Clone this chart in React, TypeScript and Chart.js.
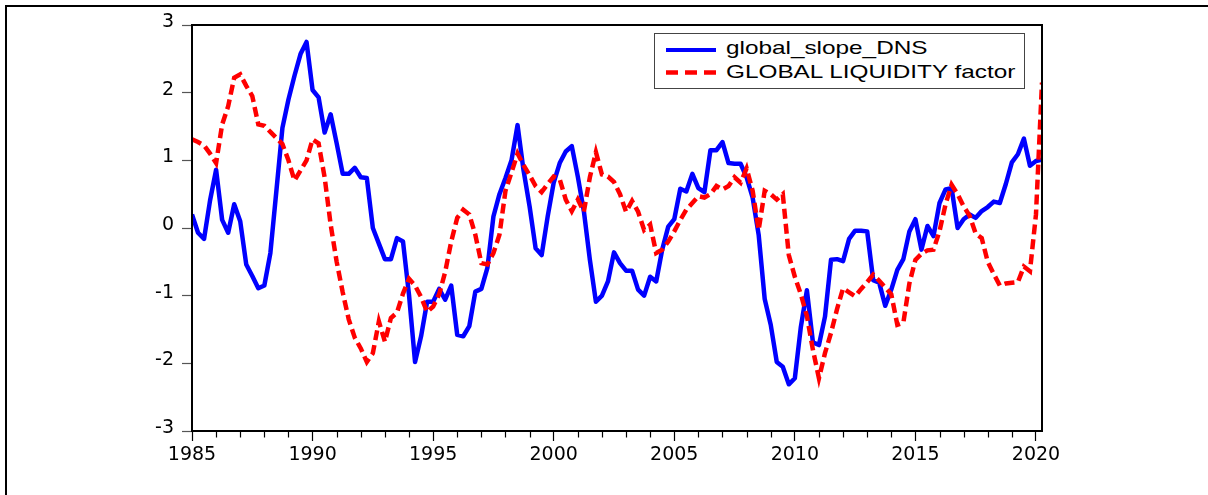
import React, { useEffect, useRef } from 'react';
import { Chart, registerables } from 'chart.js';

Chart.register(...registerables);

const START_YEAR = 1985;
const END_X = 2020.25;

// Quarterly observations 1985Q1 .. 2020Q2
const slopeDNS: number[] = [
  0.20, -0.07, -0.16, 0.41, 0.86, 0.12, -0.07, 0.35, 0.10, -0.54,
  -0.71, -0.89, -0.85, -0.37, 0.55, 1.48, 1.90, 2.25, 2.57, 2.75,
  2.04, 1.93, 1.41, 1.68, 1.25, 0.80, 0.80, 0.89, 0.75, 0.74,
  0.00, -0.23, -0.46, -0.46, -0.15, -0.20, -0.99, -1.98, -1.60, -1.09,
  -1.09, -0.90, -1.06, -0.85, -1.58, -1.60, -1.45, -0.94, -0.90, -0.59,
  0.17, 0.50, 0.74, 1.00, 1.52, 0.85, 0.32, -0.30, -0.40, 0.17,
  0.67, 0.96, 1.13, 1.21, 0.76, 0.25, -0.47, -1.09, -1.00, -0.79,
  -0.36, -0.52, -0.63, -0.63, -0.91, -1.00, -0.72, -0.79, -0.32, 0.02,
  0.13, 0.58, 0.54, 0.80, 0.59, 0.53, 1.15, 1.15, 1.27, 0.96,
  0.95, 0.95, 0.75, 0.45, -0.10, -1.05, -1.43, -1.98, -2.05, -2.31,
  -2.22, -1.46, -0.92, -1.69, -1.73, -1.31, -0.47, -0.46, -0.49, -0.16,
  -0.04, -0.04, -0.05, -0.77, -0.81, -1.15, -0.91, -0.62, -0.46, -0.05,
  0.13, -0.32, 0.03, -0.12, 0.37, 0.57, 0.59, 0.00, 0.13, 0.20,
  0.15, 0.25, 0.31, 0.39, 0.37, 0.65, 0.97, 1.09, 1.32, 0.92,
  0.99, 1.01,
];

const liquidity: number[] = [
  1.31, 1.27, 1.22, 1.10, 0.96, 1.53, 1.80, 2.22, 2.27, 2.10,
  1.95, 1.53, 1.51, 1.42, 1.33, 1.24, 1.00, 0.70, 0.85, 1.00,
  1.31, 1.25, 0.75, 0.05, -0.50, -0.95, -1.35, -1.62, -1.78, -1.98,
  -1.85, -1.38, -1.68, -1.33, -1.25, -0.97, -0.75, -0.85, -1.02, -1.24,
  -1.16, -0.98, -0.65, -0.20, 0.15, 0.27, 0.20, -0.10, -0.52, -0.54,
  -0.37, -0.10, 0.55, 0.82, 1.10, 0.93, 0.78, 0.62, 0.53, 0.65,
  0.76, 0.72, 0.42, 0.25, 0.42, 0.24, 0.75, 1.12, 0.79, 0.76,
  0.68, 0.50, 0.24, 0.40, 0.24, -0.03, 0.05, -0.37, -0.32, -0.20,
  -0.05, 0.12, 0.27, 0.37, 0.47, 0.45, 0.50, 0.62, 0.57, 0.62,
  0.75, 0.67, 0.88, 0.55, -0.03, 0.55, 0.50, 0.42, 0.50, -0.40,
  -0.72, -0.98, -1.30, -1.80, -2.22, -1.85, -1.55, -1.20, -0.89, -0.95,
  -1.01, -0.90, -0.80, -0.69, -0.78, -0.88, -0.98, -1.43, -1.40, -0.82,
  -0.47, -0.38, -0.33, -0.32, -0.05, 0.35, 0.64, 0.50, 0.32, 0.18,
  -0.08, -0.15, -0.50, -0.68, -0.85, -0.82, -0.81, -0.80, -0.57, -0.64,
  0.20, 2.15,
];

const quarters: number[] = slopeDNS.map((_, i) => START_YEAR + i / 4);
const majorYears: number[] = [1985, 1990, 1995, 2000, 2005, 2010, 2015, 2020];
const Y_MIN = -3;
const Y_MAX = 3;

const SERIES_NAMES = ['global_slope_DNS', 'GLOBAL LIQUIDITY factor'];

export default function App() {
  const ref = useRef<HTMLCanvasElement | null>(null);

  useEffect(() => {
    if (!ref.current) return;
    const framePlugin = {
      id: 'framePlugin',
      afterDraw(chart: any) {
        const { ctx, chartArea } = chart;
        const xs = chart.scales.x;
        ctx.save();
        // minor year ticks
        ctx.strokeStyle = '#000';
        ctx.lineWidth = 1.2;
        for (let yr = START_YEAR; yr <= 2020; yr++) {
          if (majorYears.includes(yr)) continue;
          const px = Math.round(xs.getPixelForValue(yr)) + 0.5;
          ctx.beginPath();
          ctx.moveTo(px, chartArea.bottom);
          ctx.lineTo(px, chartArea.bottom + 6.5);
          ctx.stroke();
        }
        // plot box
        ctx.lineWidth = 2;
        ctx.strokeStyle = '#000';
        ctx.strokeRect(chartArea.left, chartArea.top, chartArea.right - chartArea.left, chartArea.bottom - chartArea.top);
        ctx.restore();
      },
    };

    const chart = new Chart(ref.current, {
      type: 'line',
      data: {
        datasets: [
          {
            label: SERIES_NAMES[0],
            data: quarters.map((x, i) => ({ x, y: slopeDNS[i] })),
            borderColor: '#0000FF',
            borderWidth: 4.5,
            pointRadius: 0,
            tension: 0,
            borderJoinStyle: 'round',
            order: 2,
          },
          {
            label: SERIES_NAMES[1],
            data: quarters.map((x, i) => ({ x, y: liquidity[i] })),
            borderColor: '#FF0000',
            borderWidth: 4.5,
            borderDash: [10, 5],
            pointRadius: 0,
            tension: 0,
            order: 1,
          },
        ],
      },
      options: {
        responsive: false,
        maintainAspectRatio: false,
        animation: false,
        layout: { padding: { left: 0, right: 166, top: 25, bottom: 0 } },
        plugins: {
          legend: { display: false },
          tooltip: { enabled: false },
        },
        scales: {
          x: {
            type: 'linear',
            min: START_YEAR,
            max: END_X,
            afterFit: (s: any) => {
              s.height = 64;
            },
            border: { display: false },
            grid: {
              drawOnChartArea: false,
              tickLength: 10,
              tickWidth: 1.2,
              tickColor: (c: any) =>
                c.tick && majorYears.includes(c.tick.value) ? '#000' : 'rgba(0,0,0,0)',
            },
            ticks: {
              stepSize: 1,
              includeBounds: false,
              autoSkip: false,
              maxRotation: 0,
              minRotation: 0,
              padding: 3,
              color: '#000',
              font: { family: 'DejaVu Sans', size: 19 },
              callback: (v: any) => (majorYears.includes(Number(v)) ? String(v) : ''),
            },
          },
          y: {
            min: Y_MIN,
            max: Y_MAX,
            afterFit: (s: any) => {
              s.width = 192;
            },
            border: { display: false },
            grid: {
              drawOnChartArea: false,
              tickLength: 10,
              tickWidth: 1.2,
              tickColor: '#555',
            },
            ticks: {
              stepSize: 1,
              padding: 8,
              labelOffset: -3,
              color: '#000',
              font: { family: 'DejaVu Sans', size: 19 },
            },
          },
        },
      },
      plugins: [framePlugin],
    } as any);

    return () => chart.destroy();
  }, []);

  const legendText: React.CSSProperties = {
    position: 'absolute',
    left: 726,
    fontFamily: '"Liberation Sans", Arial, sans-serif',
    fontSize: '18.5px',
    lineHeight: '22px',
    color: '#000',
    whiteSpace: 'nowrap',
    transform: 'scaleX(1.315)',
    transformOrigin: 'left center',
  };

  return (
    <div
      style={{
        position: 'fixed',
        left: 0,
        top: 0,
        width: 1208,
        height: 495,
        background: '#fff',
        overflow: 'hidden',
      }}
    >
      <canvas
        ref={ref}
        width={1208}
        height={495}
        style={{ position: 'absolute', left: 0, top: 0, width: 1208, height: 495 }}
      />
      {/* outer frame */}
      <div
        style={{
          position: 'absolute',
          left: 5,
          top: 5,
          width: 1210,
          height: 500,
          borderTop: '2px solid #000',
          borderLeft: '2px solid #000',
          pointerEvents: 'none',
        }}
      />
      {/* legend */}
      <div
        style={{
          position: 'absolute',
          left: 654,
          top: 33,
          width: 371,
          height: 56,
          boxSizing: 'border-box',
          border: '1px solid #444',
          background: '#fff',
        }}
      />
      <div
        style={{ position: 'absolute', left: 666, top: 48, width: 50, height: 4, background: '#0000FF' }}
      />
      <svg style={{ position: 'absolute', left: 666, top: 70 }} width={50} height={5}>
        <line x1={0} y1={2.5} x2={50} y2={2.5} stroke="#FF0000" strokeWidth={4.5} strokeDasharray="12 7" />
      </svg>
      <span style={{ ...legendText, top: 36.6 }}>{SERIES_NAMES[0]}</span>
      <span style={{ ...legendText, top: 60.6 }}>{SERIES_NAMES[1]}</span>
    </div>
  );
}
